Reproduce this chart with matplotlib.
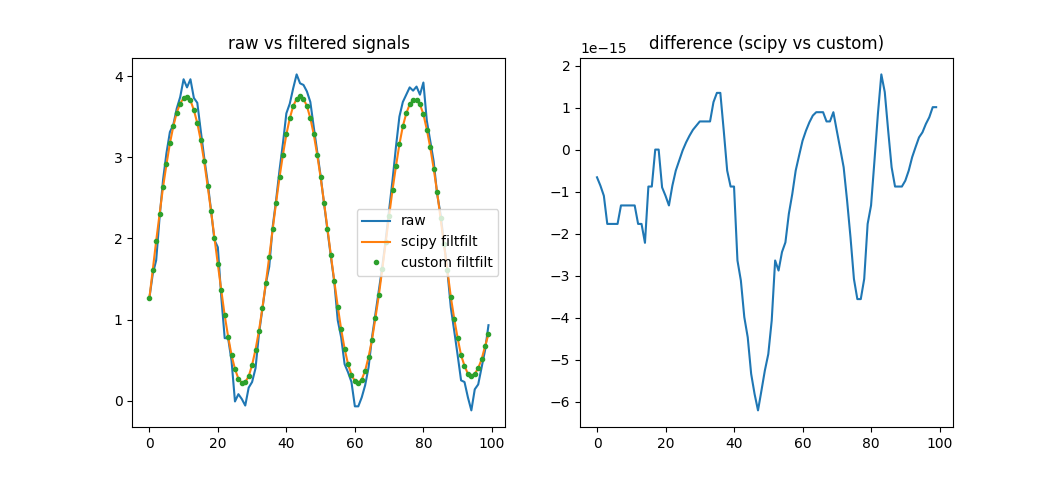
import matplotlib.pyplot as plt
import numpy as np

# sample index
n = np.arange(100)

# raw noisy signal
raw = [1.26, 1.56, 1.73, 2.26, 2.72, 3.05, 3.31, 3.40, 3.60, 3.74,
       3.96, 3.86, 3.96, 3.73, 3.67, 3.33, 3.00, 2.70, 2.35, 1.98,
       1.89, 1.28, 0.77, 0.77, 0.49, -0.01, 0.08, 0.02, -0.06, 0.16,
       0.23, 0.40, 0.82, 1.13, 1.44, 1.65, 2.14, 2.47, 2.84, 3.17,
       3.54, 3.66, 3.85, 4.02, 3.91, 3.89, 3.81, 3.68, 3.37, 3.07,
       2.77, 2.43, 2.10, 1.77, 1.46, 0.99, 0.78, 0.45, 0.35, 0.23,
       -0.07, -0.07, 0.04, 0.19, 0.41, 0.78, 1.07, 1.36, 1.65, 1.98,
       2.35, 2.72, 3.13, 3.50, 3.68, 3.77, 3.86, 3.82, 3.87, 3.77,
       3.92, 3.45, 3.20, 2.95, 2.55, 2.30, 1.95, 1.60, 1.15, 0.86,
       0.56, 0.25, 0.23, 0.04, -0.12, 0.14, 0.20, 0.41, 0.62, 0.93]

# zero-phase filtered signal (scipy and custom agree to ~1e-15)
filtered = [1.26, 1.61, 1.97, 2.30, 2.63, 2.91, 3.17, 3.38, 3.55, 3.66,
            3.73, 3.74, 3.70, 3.58, 3.42, 3.21, 2.95, 2.65, 2.34, 2.01,
            1.68, 1.36, 1.05, 0.79, 0.56, 0.39, 0.27, 0.22, 0.23, 0.30,
            0.44, 0.63, 0.86, 1.14, 1.45, 1.77, 2.11, 2.44, 2.75, 3.03,
            3.28, 3.48, 3.63, 3.72, 3.75, 3.72, 3.63, 3.48, 3.28, 3.03,
            2.75, 2.44, 2.12, 1.79, 1.47, 1.16, 0.88, 0.64, 0.45, 0.32,
            0.24, 0.22, 0.26, 0.37, 0.54, 0.75, 1.02, 1.30, 1.62, 1.95,
            2.28, 2.60, 2.89, 3.16, 3.38, 3.54, 3.65, 3.70, 3.70, 3.65,
            3.53, 3.34, 3.12, 2.86, 2.57, 2.25, 1.93, 1.61, 1.28, 1.01,
            0.77, 0.56, 0.43, 0.33, 0.31, 0.33, 0.40, 0.51, 0.67, 0.82]

# scipy minus custom, in units of 1e-15
diff_e15 = [-0.66, -0.86, -1.10, -1.77, -1.77, -1.77, -1.77, -1.33, -1.33, -1.33,
            -1.33, -1.33, -1.77, -1.77, -2.22, -0.88, -0.88, 0.00, 0.00, -0.90,
            -1.10, -1.33, -0.86, -0.50, -0.26, -0.02, 0.17, 0.33, 0.47, 0.57,
            0.67, 0.67, 0.67, 0.67, 1.13, 1.35, 1.35, 0.45, -0.50, -0.88,
            -0.88, -2.64, -3.12, -3.99, -4.47, -5.34, -5.82, -6.21, -5.74, -5.26,
            -4.87, -4.07, -2.64, -2.88, -2.44, -2.21, -1.53, -1.06, -0.50, -0.14,
            0.21, 0.45, 0.65, 0.81, 0.89, 0.89, 0.89, 0.67, 0.67, 0.89,
            0.45, 0.02, -0.42, -1.21, -2.09, -3.08, -3.56, -3.56, -3.08, -1.77,
            -1.33, -0.26, 0.85, 1.79, 1.37, 0.45, -0.42, -0.88, -0.88, -0.88,
            -0.74, -0.50, -0.18, 0.06, 0.29, 0.41, 0.61, 0.77, 1.01, 1.01]

scipy_out = np.array(filtered)
custom_out = np.array(filtered)
diff = np.array(diff_e15) * 1e-15

fig = plt.figure(figsize=(10.59, 4.8), dpi=100)

plt.subplot(1, 2, 1)
plt.plot(n, raw, label="raw")
plt.plot(n, scipy_out, label="scipy filtfilt")
plt.plot(n, custom_out, ".", label="custom filtfilt")
plt.legend(loc="center right")
plt.title("raw vs filtered signals")

plt.subplot(1, 2, 2)
plt.plot(n, diff)
plt.title("difference (scipy vs custom)")

plt.savefig("out.png")
